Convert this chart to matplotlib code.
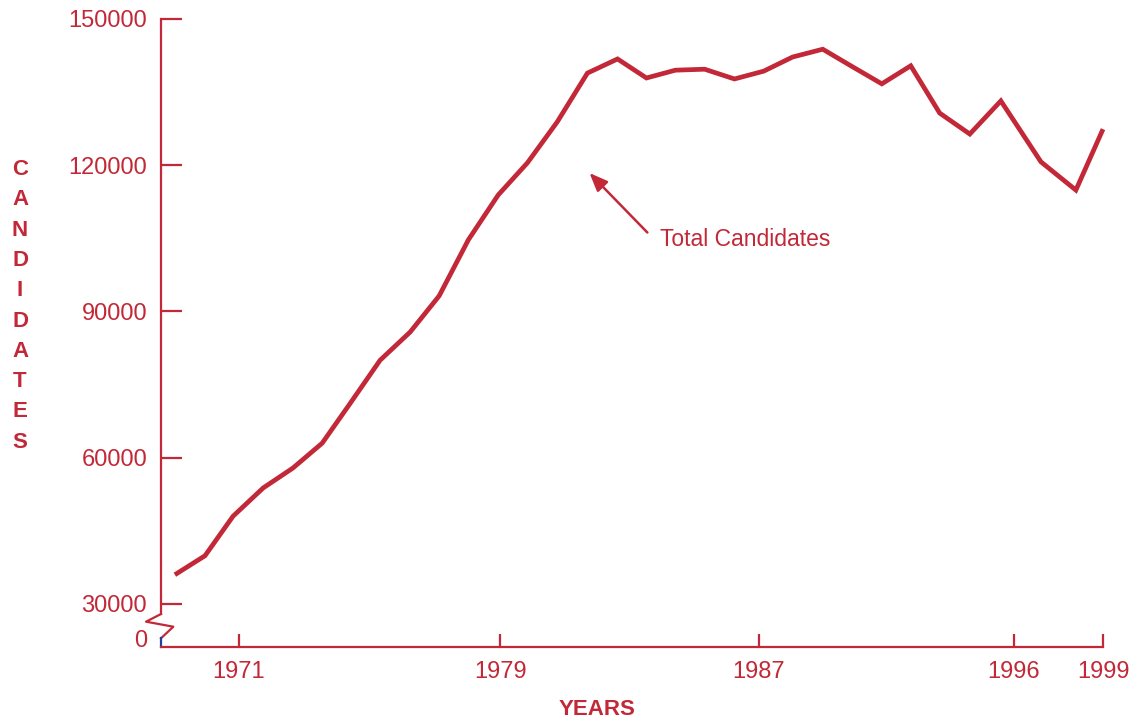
import matplotlib.pyplot as plt

red = "#C22837"

# positions along the x axis (year units) and candidate counts
x_pos = [1968.20, 1969.20, 1970.13, 1971.13, 1972.12, 1973.09, 1974.00, 1975.01,
         1976.01, 1976.97, 1977.94, 1978.93, 1979.90, 1980.89, 1981.89, 1982.89,
         1983.85, 1984.81, 1985.78, 1986.77, 1987.74, 1988.70, 1989.70, 1990.66,
         1991.66, 1992.62, 1993.58, 1994.58, 1995.61, 1996.94, 1998.10, 1999.00]
candidates = [36000, 39900, 48000, 53800, 57900, 63000, 71000, 80000,
              85800, 93200, 104700, 113900, 120500, 128900, 138900, 141800,
              137900, 139500, 139700, 137700, 139300, 142200, 143800, 140300,
              136700, 140400, 130700, 126400, 133200, 120700, 114900, 127400]

tick_pos = [1970.33, 1979.0, 1987.57, 1996.04, 1999.0]
tick_labels = ["1971", "1979", "1987", "1996", "1999"]
y_ticks = [30000, 60000, 90000, 120000, 150000]

plt.rcParams["font.family"] = ["Liberation Sans", "DejaVu Sans"]

fig = plt.figure(figsize=(11.37, 7.25), dpi=100)
ax = fig.add_axes([0.1416, 0.1076, 0.8285, 0.8662])

ax.plot(x_pos, candidates, color=red, linewidth=3.4, solid_joinstyle="miter",
        solid_capstyle="butt", clip_on=False)

ax.set_xlim(1967.74, 1999.0)
ax.set_ylim(21180, 150000)

for s in ["top", "right"]:
    ax.spines[s].set_visible(False)
for s in ["left", "bottom"]:
    ax.spines[s].set_color(red)
    ax.spines[s].set_linewidth(1.6)
ax.spines["left"].set_bounds(27950, 150000)

ax.set_yticks(y_ticks)
ax.set_yticklabels([str(v) for v in y_ticks])
ax.set_xticks(tick_pos)
ax.set_xticklabels(tick_labels)
ax.tick_params(axis="y", direction="in", length=15, width=1.6, color=red,
               labelcolor=red, labelsize=17, pad=10)
ax.tick_params(axis="x", direction="in", length=9.5, width=1.6, color=red,
               labelcolor=red, labelsize=17, pad=10)

# broken axis mark
ax.plot([0, -0.0159, 0.0131, 0, 0], [0.0525, 0.0403, 0.0323, 0.0139, 0.0139],
        color=red, linewidth=1.6, transform=ax.transAxes, clip_on=False)
ax.plot([0, 0], [0.0139, 0], color="#2040a0", linewidth=1.6,
        transform=ax.transAxes, clip_on=False)
ax.text(-0.0149, 0.0096, "0", color=red, fontsize=17, ha="right", va="center",
        transform=ax.transAxes)

fig.text(0.0176, 0.578, "\n".join("CANDIDATES"), color=red, fontsize=16,
         fontweight="bold", ha="center", va="center", linespacing=1.58)
fig.text(0.525, 0.021, "YEARS", color=red, fontsize=16, fontweight="bold",
         ha="center", va="center")

ax.annotate("", xy=(1981.96, 118400), xytext=(1983.88, 106200),
            arrowprops=dict(arrowstyle="-|>,head_length=1.1,head_width=0.45",
                            color=red, lw=1.8, shrinkA=0, shrinkB=0))
ax.text(1984.3, 104700, "Total Candidates", color=red, fontsize=16.5,
        ha="left", va="center")

fig.savefig("out.png", dpi=100)
